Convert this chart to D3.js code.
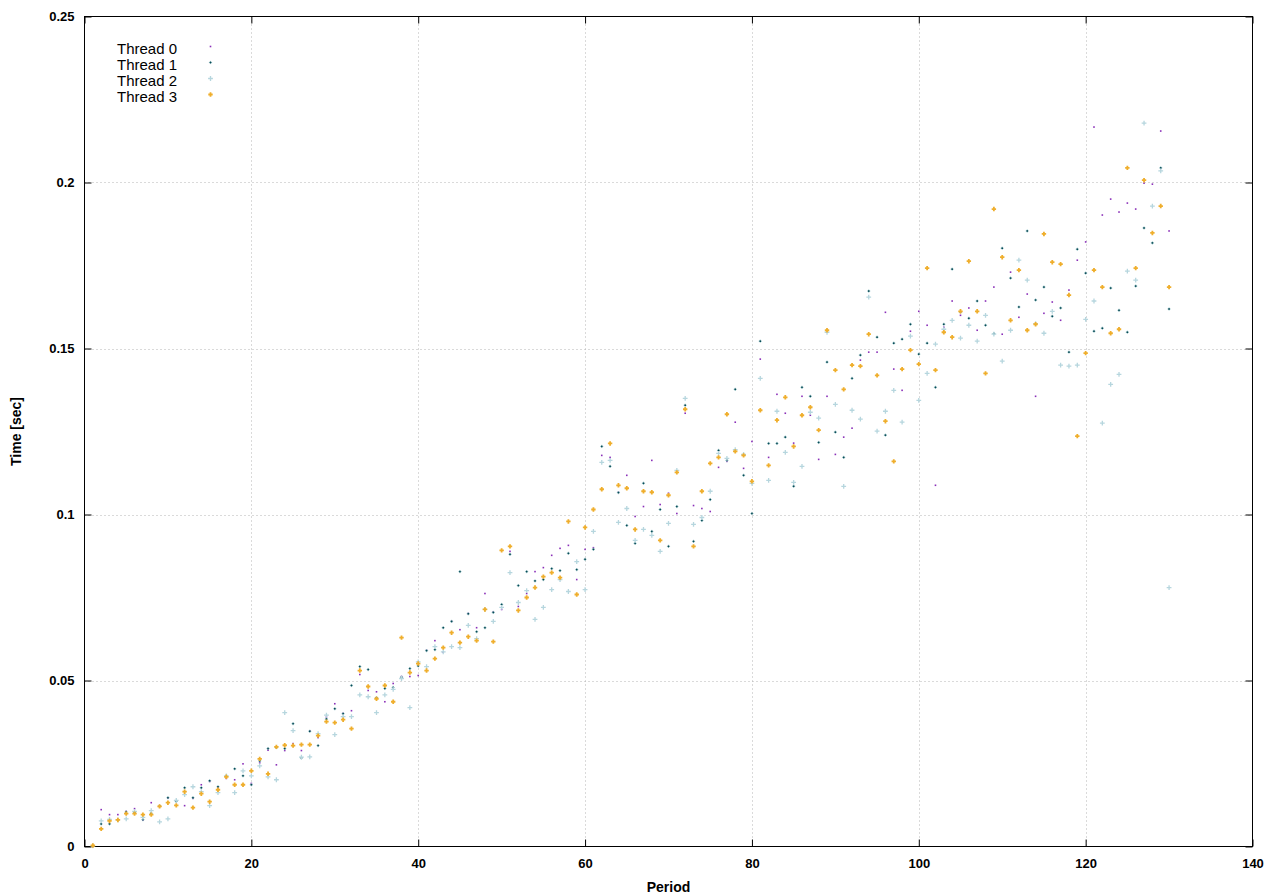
<!DOCTYPE html>
<html>
<head>
<meta charset="utf-8">
<script src="https://cdn.jsdelivr.net/npm/d3@7/dist/d3.min.js"></script>
<style>
  html, body { margin: 0; padding: 0; background: #ffffff; }
  svg { display: block; }
</style>
</head>
<body>
<svg id="chart" width="1280" height="896"></svg>
<script>
// ---------------- DATA ----------------
const seriesNames = ["Thread 0", "Thread 1", "Thread 2", "Thread 3"];
const xTicks = [0, 20, 40, 60, 80, 100, 120, 140];
const yTicks = [0, 0.05, 0.1, 0.15, 0.2, 0.25];
const yTickLabels = ["0", "0.05", "0.1", "0.15", "0.2", "0.25"];

// periods 1..130
const periods = d3.range(1, 131);

const thread0 = [
  0.0002, 0.0111, 0.0096, 0.0096, 0.0106, 0.0114, 0.0080, 0.0132, 0.0120, 0.0146,
  0.0137, 0.0123, 0.0145, 0.0186, 0.0196, 0.0178, 0.0205, 0.0201, 0.0249, 0.0190,
  0.0252, 0.0290, 0.0246, 0.0289, 0.0310, 0.0289, 0.0348, 0.0328, 0.0390, 0.0430,
  0.0401, 0.0409, 0.0518, 0.0470, 0.0466, 0.0436, 0.0491, 0.0512, 0.0512, 0.0515,
  0.0591, 0.0620, 0.0585, 0.0678, 0.0653, 0.0702, 0.0659, 0.0762, 0.0706, 0.0714,
  0.0889, 0.0723, 0.0762, 0.0828, 0.0840, 0.0877, 0.0898, 0.0907, 0.0804, 0.0895,
  0.0900, 0.1178, 0.1172, 0.1067, 0.1118, 0.0994, 0.1024, 0.1163, 0.1030, 0.1064,
  0.1003, 0.1305, 0.1027, 0.1018, 0.1009, 0.1142, 0.1160, 0.1278, 0.1139, 0.1220,
  0.1468, 0.1172, 0.1362, 0.1305, 0.1215, 0.1356, 0.1299, 0.1166, 0.1356, 0.1181,
  0.1233, 0.1260, 0.1465, 0.1489, 0.1489, 0.1609, 0.1438, 0.1374, 0.1552, 0.1612,
  0.1570, 0.1088, 0.1564, 0.1643, 0.1600, 0.1622, 0.1555, 0.1643, 0.1685, 0.1543,
  0.1730, 0.1594, 0.1664, 0.1356, 0.1606, 0.1640, 0.1585, 0.1676, 0.1766, 0.1821,
  0.2167, 0.1902, 0.1950, 0.1911, 0.1938, 0.1920, 0.1998, 0.1995, 0.2155, 0.1854
];
const thread1 = [
  0.0002, 0.0068, 0.0068, 0.0080, 0.0104, 0.0103, 0.0081, 0.0100, 0.0122, 0.0147,
  0.0136, 0.0177, 0.0147, 0.0177, 0.0198, 0.0180, 0.0212, 0.0234, 0.0213, 0.0186,
  0.0258, 0.0295, 0.0298, 0.0295, 0.0370, 0.0267, 0.0347, 0.0304, 0.0384, 0.0415,
  0.0400, 0.0485, 0.0542, 0.0533, 0.0448, 0.0476, 0.0479, 0.0510, 0.0536, 0.0544,
  0.0590, 0.0593, 0.0659, 0.0678, 0.0828, 0.0701, 0.0647, 0.0659, 0.0705, 0.0729,
  0.0880, 0.0786, 0.0828, 0.0800, 0.0804, 0.0837, 0.0831, 0.0883, 0.0834, 0.0865,
  0.0895, 0.1205, 0.1145, 0.1066, 0.0967, 0.0913, 0.1094, 0.0949, 0.1015, 0.0904,
  0.1024, 0.1329, 0.0919, 0.0982, 0.1045, 0.1193, 0.1163, 0.1377, 0.1118, 0.1003,
  0.1522, 0.1214, 0.1214, 0.1233, 0.1085, 0.1383, 0.1356, 0.1217, 0.1459, 0.1248,
  0.1172, 0.1410, 0.1480, 0.1673, 0.1534, 0.1239, 0.1516, 0.1528, 0.1573, 0.1483,
  0.1516, 0.1383, 0.1573, 0.1739, 0.1610, 0.1591, 0.1643, 0.1570, 0.1545, 0.1802,
  0.1712, 0.1625, 0.1854, 0.1646, 0.1685, 0.1597, 0.1622, 0.1489, 0.1799, 0.1727,
  0.1552, 0.1561, 0.1682, 0.1615, 0.1549, 0.1688, 0.1863, 0.1818, 0.2044, 0.1619
];
const thread2 = [
  0.0002, 0.0077, 0.0082, 0.0080, 0.0083, 0.0106, 0.0088, 0.0108, 0.0074, 0.0083,
  0.0139, 0.0156, 0.0180, 0.0165, 0.0123, 0.0162, 0.0213, 0.0162, 0.0228, 0.0213,
  0.0243, 0.0210, 0.0201, 0.0403, 0.0349, 0.0269, 0.0270, 0.0340, 0.0396, 0.0337,
  0.0391, 0.0391, 0.0457, 0.0451, 0.0403, 0.0457, 0.0473, 0.0506, 0.0418, 0.0556,
  0.0542, 0.0602, 0.0586, 0.0602, 0.0599, 0.0666, 0.0626, 0.0714, 0.0678, 0.0720,
  0.0825, 0.0735, 0.0771, 0.0684, 0.0720, 0.0774, 0.0804, 0.0768, 0.0858, 0.0774,
  0.0949, 0.1157, 0.1163, 0.0976, 0.1018, 0.0922, 0.0955, 0.0937, 0.0889, 0.0973,
  0.1133, 0.1350, 0.0970, 0.0991, 0.1070, 0.1184, 0.1169, 0.1195, 0.1181, 0.1094,
  0.1410, 0.1103, 0.1311, 0.1187, 0.1097, 0.1145, 0.1308, 0.1290, 0.1549, 0.1332,
  0.1085, 0.1314, 0.1287, 0.1655, 0.1251, 0.1311, 0.1374, 0.1278, 0.1537, 0.1344,
  0.1425, 0.1513, 0.1558, 0.1585, 0.1531, 0.1570, 0.1522, 0.1600, 0.1543, 0.1462,
  0.1555, 0.1766, 0.1706, 0.1575, 0.1546, 0.1612, 0.1450, 0.1447, 0.1450, 0.1588,
  0.1643, 0.1275, 0.1392, 0.1422, 0.1733, 0.1706, 0.2179, 0.1929, 0.2035, 0.0780
];
const thread3 = [
  0.0003, 0.0053, 0.0077, 0.0080, 0.0099, 0.0099, 0.0096, 0.0096, 0.0121, 0.0132,
  0.0124, 0.0165, 0.0117, 0.0159, 0.0135, 0.0171, 0.0210, 0.0186, 0.0186, 0.0228,
  0.0264, 0.0219, 0.0300, 0.0305, 0.0304, 0.0307, 0.0307, 0.0334, 0.0376, 0.0373,
  0.0382, 0.0355, 0.0530, 0.0482, 0.0445, 0.0485, 0.0436, 0.0629, 0.0524, 0.0551,
  0.0530, 0.0566, 0.0599, 0.0644, 0.0614, 0.0632, 0.0620, 0.0714, 0.0617, 0.0892,
  0.0904, 0.0711, 0.0750, 0.0780, 0.0813, 0.0825, 0.0810, 0.0979, 0.0759, 0.0961,
  0.1015, 0.1076, 0.1214, 0.1088, 0.1079, 0.0955, 0.1070, 0.1067, 0.0922, 0.1058,
  0.1127, 0.1317, 0.0904, 0.1070, 0.1154, 0.1172, 0.1302, 0.1190, 0.1178, 0.1100,
  0.1314, 0.1148, 0.1284, 0.1353, 0.1205, 0.1299, 0.1323, 0.1254, 0.1555, 0.1435,
  0.1377, 0.1450, 0.1447, 0.1543, 0.1419, 0.1281, 0.1160, 0.1438, 0.1495, 0.1453,
  0.1742, 0.1435, 0.1549, 0.1534, 0.1612, 0.1763, 0.1612, 0.1425, 0.1920, 0.1775,
  0.1585, 0.1736, 0.1555, 0.1573, 0.1845, 0.1760, 0.1754, 0.1661, 0.1236, 0.1486,
  0.1736, 0.1685, 0.1546, 0.1558, 0.2044, 0.1742, 0.2007, 0.1848, 0.1929, 0.1685
];
const seriesValues = [thread0, thread1, thread2, thread3];

// ---------------- CHART ----------------
const svg = d3.select("#chart");
const L = 84.5, R = 1252.5, T = 16.5, B = 846.5;
const x = d3.scaleLinear().domain([0, 140]).range([L, R]);
const y = d3.scaleLinear().domain([0, 0.25]).range([B, T]);
const font = "'Liberation Sans', Arial, Helvetica, sans-serif";

// grid
const grid = svg.append("g");
grid.selectAll("line.gx").data(xTicks.filter(d => d > 0 && d < 140)).enter().append("line")
  .attr("x1", d => Math.round(x(d)) + 0.5).attr("x2", d => Math.round(x(d)) + 0.5)
  .attr("y1", T).attr("y2", B)
  .attr("stroke", "#b4b4b4").attr("stroke-width", 1).attr("stroke-dasharray", "1,3");
grid.selectAll("line.gy").data(yTicks.filter(d => d > 0 && d < 0.25)).enter().append("line")
  .attr("y1", d => Math.round(y(d)) + 0.5).attr("y2", d => Math.round(y(d)) + 0.5)
  .attr("x1", L).attr("x2", R)
  .attr("stroke", "#b4b4b4").attr("stroke-width", 1).attr("stroke-dasharray", "1,3");

// axes with inward ticks (and mirrored)
const tickLen = 7;
const axB = svg.append("g").attr("transform", `translate(0,${B})`)
  .call(d3.axisBottom(x).tickValues(xTicks).tickSizeInner(-tickLen).tickSizeOuter(0).tickPadding(12));
const axT = svg.append("g").attr("transform", `translate(0,${T})`)
  .call(d3.axisTop(x).tickValues(xTicks).tickSizeInner(-tickLen).tickSizeOuter(0).tickFormat(""));
const axL = svg.append("g").attr("transform", `translate(${L},0)`)
  .call(d3.axisLeft(y).tickValues(yTicks).tickSizeInner(-tickLen).tickSizeOuter(0).tickPadding(10)
    .tickFormat((d, i) => yTickLabels[i]));
const axR = svg.append("g").attr("transform", `translate(${R},0)`)
  .call(d3.axisRight(y).tickValues(yTicks).tickSizeInner(-tickLen).tickSizeOuter(0).tickFormat(""));
[axB, axT, axL, axR].forEach(a => {
  a.select(".domain").remove();
  a.selectAll(".tick line").attr("stroke", "#000");
  a.selectAll(".tick text").attr("fill", "#000").style("font-family", font)
    .style("font-size", "13px").style("font-weight", "bold");
});

// frame
svg.append("rect").attr("x", L).attr("y", T).attr("width", R - L).attr("height", B - T)
  .attr("fill", "none").attr("stroke", "#000").attr("stroke-width", 1);

// axis titles
svg.append("text").attr("x", (L + R) / 2).attr("y", 892).attr("text-anchor", "middle")
  .style("font-family", font).style("font-size", "14px").style("font-weight", "bold").text("Period");
svg.append("text").attr("transform", `translate(21,${(T + B) / 2}) rotate(-90)`).attr("text-anchor", "middle")
  .style("font-family", font).style("font-size", "14px").style("font-weight", "bold").text("Time [sec]");

// marker drawers
function plusPath(cx, cy, s) {
  return `M${cx - s},${cy}h${2 * s}M${cx},${cy - s}v${2 * s}`;
}
const markers = [
  (g, cx, cy) => g.append("rect").attr("x", cx - 0.8).attr("y", cy - 0.8).attr("width", 1.6).attr("height", 1.6)
    .attr("fill", "#8a2fb8"),
  (g, cx, cy) => {
    g.append("path").attr("d", plusPath(cx, cy, 1.6)).attr("stroke", "#9cc8cc").attr("stroke-width", 1).attr("fill", "none");
    g.append("rect").attr("x", cx - 0.8).attr("y", cy - 0.8).attr("width", 1.6).attr("height", 1.6).attr("fill", "#0b4a55");
  },
  (g, cx, cy) => g.append("path").attr("d", plusPath(cx, cy, 2.4)).attr("stroke", "#b6d6de").attr("stroke-width", 1.3).attr("fill", "none"),
  (g, cx, cy) => g.append("path").attr("d", plusPath(cx, cy, 2.2)).attr("stroke", "#efae2c").attr("stroke-width", 1.8).attr("fill", "none")
];

// points
const pts = svg.append("g");
seriesValues.forEach((vals, si) => {
  const g = pts.append("g").attr("class", "series-" + si);
  vals.forEach((v, i) => {
    markers[si](g, x(periods[i]), y(v));
  });
});

// legend
const leg = svg.append("g");
seriesNames.forEach((name, i) => {
  const cy = 46.5 + i * 16;
  leg.append("text").attr("x", 117).attr("y", cy + 7)
    .style("font-family", font).style("font-size", "15px").attr("fill", "#000").text(name);
  markers[i](leg, 210.5, cy);
});
</script>
</body>
</html>
